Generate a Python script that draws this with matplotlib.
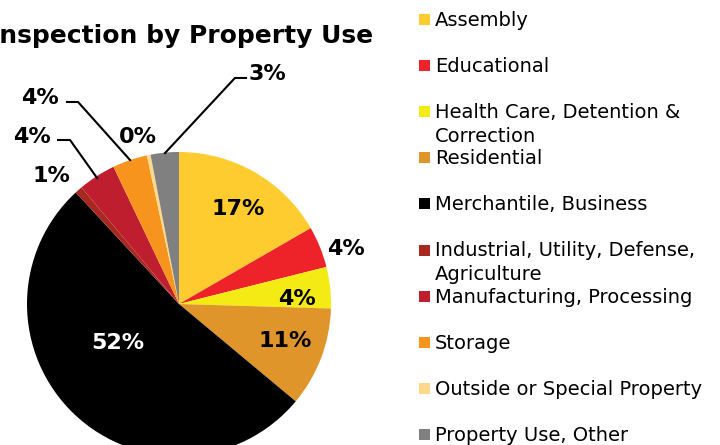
import matplotlib
matplotlib.use("Agg")
import matplotlib.pyplot as plt
from matplotlib.patches import Rectangle

# data (share of inspections, %)
categories = ["Assembly", "Educational", "Health Care, Detention &\nCorrection",
              "Residential", "Merchantile, Business",
              "Industrial, Utility, Defense,\nAgriculture",
              "Manufacturing, Processing", "Storage",
              "Outside or Special Property", "Property Use, Other"]
values = [16.7, 4.4, 4.4, 10.6, 52.1, 0.8, 4.0, 3.7, 0.4, 3.0]
colors = ["#FECC2F", "#EE2229", "#F4EA14", "#E0952B", "#000000",
          "#A8281F", "#BE1E2D", "#F7941D", "#FFD98A", "#808080"]

# label placement (data coords, pie radius = 1); None = no leader line
label_pos = [(0.388, 0.625), (1.10, 0.36), (0.776, 0.035), (0.70, -0.245),
             (-0.405, -0.255), (-0.842, 0.84), (-0.967, 1.10), (-0.914, 1.357),
             (-0.270, 1.10), (0.579, 1.515)]
leaders = {6: [(-0.796, 1.079), (-0.717, 1.079), (-0.539, 0.829)],
           7: [(-0.737, 1.329), (-0.664, 1.329), (-0.322, 0.947)],
           9: [(0.441, 1.487), (0.368, 1.487), (-0.092, 0.993)]}

W, H = 720, 445
fig = plt.figure(figsize=(7.2, 4.45), dpi=100)

# pie axes: centre (179, 304) px from top, radius 152 px
cx, cy, r = 179, 304, 152
ax = fig.add_axes([(cx - r) / W, (H - cy - r) / H, 2 * r / W, 2 * r / H])
wedges, _ = ax.pie(values, colors=colors, startangle=90, counterclock=False,
                   radius=1, wedgeprops=dict(linewidth=0))
ax.set_xlim(-1, 1)
ax.set_ylim(-1, 1)
ax.set_aspect("equal")
ax.axis("off")

total = sum(values)
for i, v in enumerate(values):
    txt = "%.0f%%" % (v / total * 100)
    x, y = label_pos[i]
    ax.text(x, y, txt, ha="center", va="center", fontsize=16, fontweight="bold",
            color="white" if colors[i] == "#000000" else "black", clip_on=False)
    if i in leaders:
        xs, ys = zip(*leaders[i])
        ax.plot(xs, ys, color="black", linewidth=1.5, clip_on=False)

# title (cut off at the left edge like the reference)
fig.text(373 / W, (H - 43) / H, "Inspection by Property Use", ha="right",
         va="baseline", fontsize=18, fontweight="bold")

# legend drawn as fixed slots
for i, lab in enumerate(categories):
    base = 26 + i * 46.1
    fig.patches.append(Rectangle((419 / W, (H - base + 1) / H), 11 / W, 11 / H,
                                 transform=fig.transFigure, facecolor=colors[i],
                                 edgecolor="none"))
    for j, line in enumerate(lab.split("\n")):
        fig.text(435 / W, (H - base - j * 24) / H, line, ha="left",
                 va="baseline", fontsize=14, color="black")

fig.savefig("out.png", dpi=100)
